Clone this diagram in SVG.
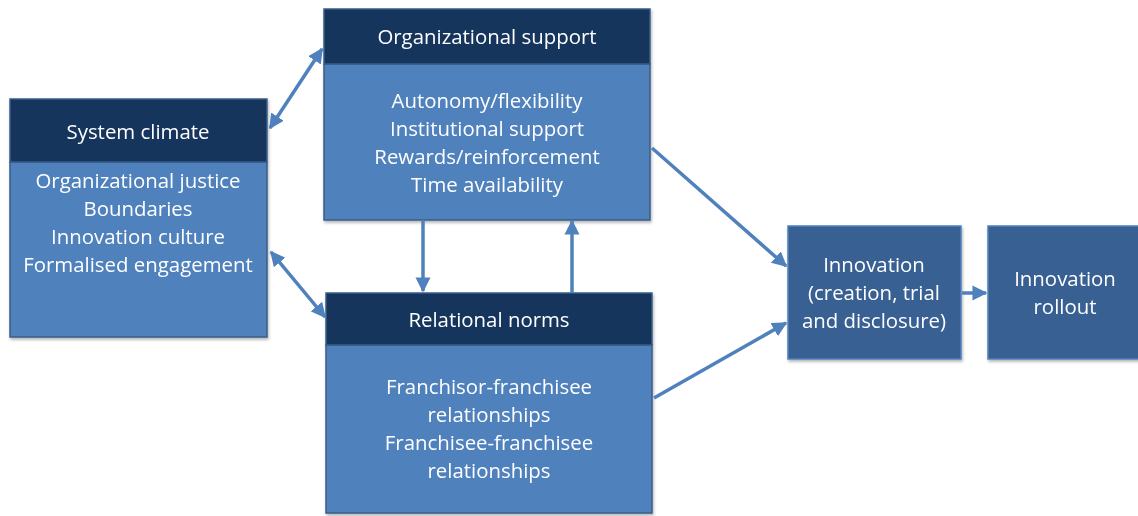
<svg xmlns="http://www.w3.org/2000/svg" width="1138" height="516" viewBox="0 0 1138 516">
<style>
.hd{fill:#17365d;stroke:#385d8a;stroke-width:1.5}
.bd{fill:#4f81bd;stroke:#385d8a;stroke-width:1.5}
.in{fill:#376092;stroke:#4f81bd;stroke-width:1.5}
text{font-family:"Open Sans","Liberation Sans",sans-serif;font-size:20.4px;fill:#fff;text-anchor:middle}
.c{stroke:#4f81bd;stroke-width:3.5;fill:none}
</style>
<defs>
<marker id="ah" viewBox="0 0 10 10" refX="9" refY="5" markerWidth="4.3" markerHeight="4.3" orient="auto-start-reverse" markerUnits="strokeWidth">
<path d="M0,0 L10,5 L0,10 z" fill="#4f81bd"/>
</marker>
<filter id="sh" x="-5%" y="-5%" width="110%" height="110%"><feDropShadow dx="1" dy="2" stdDeviation="1.5" flood-color="#000" flood-opacity="0.3"/></filter>
</defs>
<rect width="1138" height="516" fill="#fff"/>
<g id="system-climate" filter="url(#sh)">
<rect class="bd" x="10" y="162" width="257" height="175"/>
<rect class="hd" x="10" y="99" width="257" height="63"/>
<text x="138" y="139">System climate</text>
<text x="138" y="188">Organizational justice</text>
<text x="138" y="216">Boundaries</text>
<text x="138" y="244">Innovation culture</text>
<text x="138" y="272">Formalised engagement</text>
</g>
<g id="organizational-support" filter="url(#sh)">
<rect class="bd" x="324" y="64" width="326" height="156"/>
<rect class="hd" x="324" y="9" width="326" height="55"/>
<text x="487" y="44">Organizational support</text>
<text x="487" y="108">Autonomy/flexibility</text>
<text x="487" y="136">Institutional support</text>
<text x="487" y="164">Rewards/reinforcement</text>
<text x="487" y="192">Time availability</text>
</g>
<g id="relational-norms" filter="url(#sh)">
<rect class="bd" x="326" y="345" width="326" height="168"/>
<rect class="hd" x="326" y="293" width="326" height="52"/>
<text x="489" y="327">Relational norms</text>
<text x="489" y="394">Franchisor-franchisee</text>
<text x="489" y="422">relationships</text>
<text x="489" y="450">Franchisee-franchisee</text>
<text x="489" y="478">relationships</text>
</g>
<g id="innovation" filter="url(#sh)">
<rect class="in" x="788" y="226" width="173" height="133"/>
<text x="874" y="272">Innovation</text>
<text x="874" y="300">(creation, trial</text>
<text x="874" y="328">and disclosure)</text>
</g>
<g id="innovation-rollout" filter="url(#sh)">
<rect class="in" x="988" y="226" width="155" height="133"/>
<text x="1065" y="286">Innovation</text>
<text x="1065" y="314">rollout</text>
</g>
<g id="connectors">
<line class="c" x1="270" y1="128" x2="322" y2="49" marker-start="url(#ah)" marker-end="url(#ah)"/>
<line class="c" x1="271" y1="252" x2="325" y2="317" marker-start="url(#ah)" marker-end="url(#ah)"/>
<line class="c" x1="423" y1="220" x2="423" y2="291" marker-end="url(#ah)"/>
<line class="c" x1="572" y1="293" x2="572" y2="221" marker-end="url(#ah)"/>
<line class="c" x1="652" y1="148" x2="786" y2="266" marker-end="url(#ah)"/>
<line class="c" x1="654" y1="398" x2="786" y2="323" marker-end="url(#ah)"/>
<line class="c" x1="962" y1="293" x2="986" y2="293" marker-end="url(#ah)"/>
</g>
</svg>
